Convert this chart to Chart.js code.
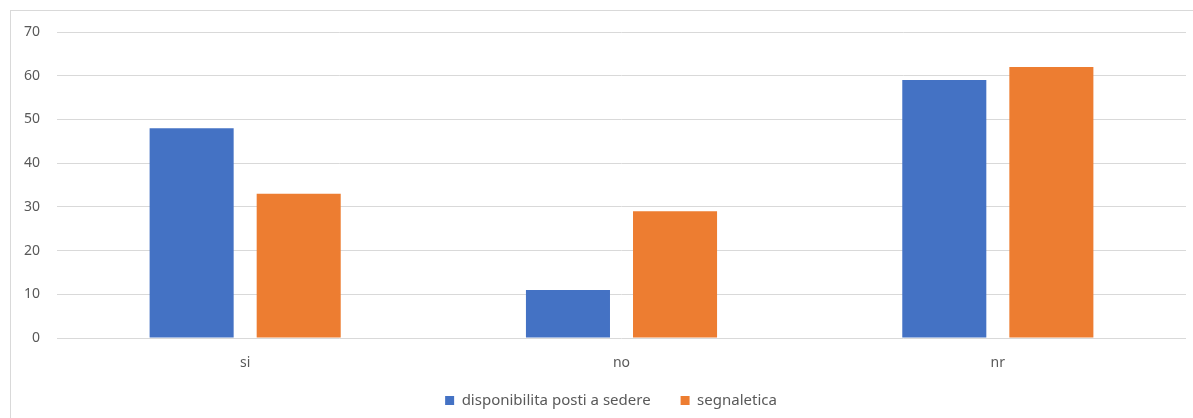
<!DOCTYPE html>
<html>
<head>
<meta charset="utf-8">
<script src="https://cdn.jsdelivr.net/npm/chart.js@4"></script>
<style>
    body { margin: 0; background: #fff; overflow: hidden; }
    #frame {
        position: absolute; left: 10px; top: 10px;
        width: 1300px; height: 500px;
        border: 1px solid #d9d9d9;
    }
    #wrap { position: absolute; left: 0; top: 0; width: 1193px; height: 418px; }
</style>
</head>
<body>
<div id="frame"></div>
<div id="wrap"><canvas id="barChart"></canvas></div>
<script>
const categories = ['si', 'no', 'nr'];
const seatValues = [48, 11, 59];
const signValues = [33, 29, 62];
const yTicks = [0, 10, 20, 30, 40, 50, 60, 70];

const textColor = '#595959';
const fontFamily = "'Noto Sans', 'Liberation Sans', sans-serif";

// nudge the legend: a bit right of centre and back up into the canvas
const legendShift = {
    id: 'legendShift',
    beforeDraw(chart) {
        const lg = chart.legend;
        if (lg && !lg._shifted) {
            lg.left += 18;
            lg.right += 18;
            lg.top -= 16;
            lg.bottom -= 16;
            lg._shifted = true;
        }
    }
};

const barCtx = document.getElementById('barChart');

new Chart(barCtx, {
    type: 'bar',
    data: {
        labels: categories,
        datasets: [{
            label: 'disponibilita posti a sedere',
            data: seatValues,
            backgroundColor: '#4472c4'
        }, {
            label: 'segnaletica',
            data: signValues,
            backgroundColor: '#ed7d31'
        }]
    },

    options: {
        responsive: true,
        maintainAspectRatio: false,
        animation: false,
        layout: {
            padding: { top: 32, right: 7, bottom: -16, left: 0 }
        },
        datasets: {
            bar: {
                categoryPercentage: 0.569,
                barPercentage: 0.785
            }
        },
        scales: {
            x: {
                afterFit: (scale) => { scale.height = 41; },
                grid: { display: false },
                border: { display: false },
                ticks: {
                    color: textColor,
                    padding: 9,
                    font: { family: fontFamily, size: 14 }
                }
            },
            y: {
                min: 0,
                max: 70,
                afterFit: (scale) => { scale.width = 57; },
                afterBuildTicks: (scale) => {
                    scale.ticks = yTicks.map(v => ({ value: v }));
                },
                grid: { color: '#d9d9d9', drawTicks: false },
                border: { display: false },
                ticks: {
                    color: textColor,
                    padding: 17,
                    font: { family: fontFamily, size: 14 }
                }
            }
        },
        plugins: {
            legend: {
                position: 'bottom',
                labels: {
                    color: textColor,
                    boxWidth: 9,
                    boxHeight: 9,
                    padding: 30,
                    font: { family: fontFamily, size: 15 }
                }
            },
            tooltip: { enabled: false }
        }
    },
    plugins: [legendShift]
});
</script>
</body>
</html>
